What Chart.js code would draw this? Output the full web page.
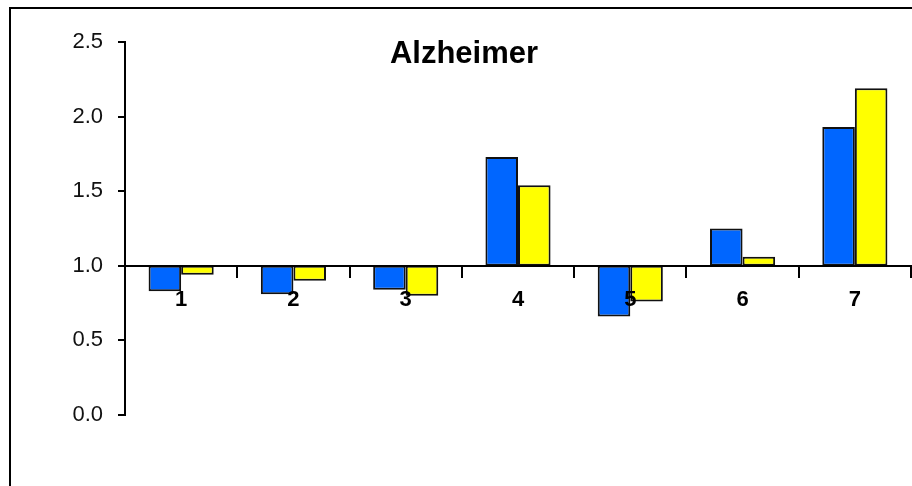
<!DOCTYPE html>
<html>
<head>
<meta charset="utf-8">
<script src="https://cdn.jsdelivr.net/npm/chart.js@4/dist/chart.umd.min.js"></script>
<style>
  html, body { margin: 0; padding: 0; background: #fff; overflow: hidden; }
  #wrap { position: relative; width: 912px; height: 486px; }
  #frame { position: absolute; left: 9px; top: 7px; width: 920px; height: 500px;
           border-left: 2px solid #000; border-top: 2px solid #000; pointer-events: none; }
  canvas { position: absolute; left: 0; top: 0; }
</style>
</head>
<body>
<div id="wrap">
  <canvas id="c" width="912" height="486"></canvas>
  <div id="frame"></div>
</div>
<script>
const chartTitle = "Alzheimer";
const categories = ["1", "2", "3", "4", "5", "6", "7"];
const baseline = 1.0;
const seriesBlue = [0.83, 0.81, 0.84, 1.73, 0.66, 1.25, 1.93];
const seriesYellow = [0.94, 0.90, 0.80, 1.54, 0.76, 1.06, 2.19];
const yTicks = [0.0, 0.5, 1.0, 1.5, 2.0, 2.5];

const titlePlugin = {
  id: 'innerTitle',
  afterDraw(chart) {
    const ctx = chart.ctx;
    ctx.save();
    ctx.font = 'bold 31px "Liberation Sans", Arial, sans-serif';
    ctx.fillStyle = '#000';
    ctx.textAlign = 'center';
    ctx.textBaseline = 'alphabetic';
    ctx.fillText(chartTitle, 464, 63);
    ctx.restore();
  }
};

new Chart(document.getElementById('c'), {
  type: 'bar',
  data: {
    labels: categories,
    datasets: [
      {
        data: seriesBlue.map(v => [baseline, v]),
        backgroundColor: '#0066ff',
        borderColor: '#111',
        borderWidth: 2,
        borderSkipped: false,
        categoryPercentage: 0.58,
        barPercentage: 1.0
      },
      {
        data: seriesYellow.map(v => [baseline, v]),
        backgroundColor: '#ffff00',
        borderColor: '#111',
        borderWidth: 2,
        borderSkipped: false,
        categoryPercentage: 0.58,
        barPercentage: 1.0
      }
    ]
  },
  options: {
    responsive: false,
    animation: false,
    devicePixelRatio: 1,
    layout: { padding: { left: 0, top: 42, right: 1, bottom: 71 } },
    plugins: { legend: { display: false }, tooltip: { enabled: false }, title: { display: false } },
    scales: {
      x: {
        position: { y: baseline },
        offset: true,
        grid: { drawOnChartArea: false, offset: true, tickLength: 11, color: '#000', lineWidth: 2, z: 1 },
        border: { display: true, color: '#000', width: 2, z: 1 },
        ticks: { color: '#000', padding: 10, maxRotation: 0, z: 1,
                 font: { family: '"Liberation Sans", Arial, sans-serif', size: 22, weight: 'bold' } }
      },
      y: {
        min: yTicks[0],
        max: yTicks[yTicks.length - 1],
        afterFit(scale) { scale.width = 125; },
        afterBuildTicks(scale) { scale.ticks = yTicks.map(v => ({ value: v })); },
        grid: { drawOnChartArea: false, tickLength: 7, color: '#000', lineWidth: 2 },
        border: { display: true, color: '#000', width: 2 },
        ticks: { color: '#111', padding: 15, callback: v => Number(v).toFixed(1),
                 font: { family: '"Liberation Sans", Arial, sans-serif', size: 22 } }
      }
    }
  },
  plugins: [titlePlugin]
});
</script>
</body>
</html>
